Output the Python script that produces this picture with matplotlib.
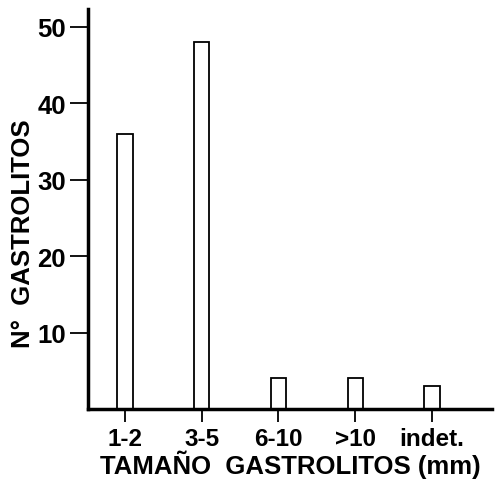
import matplotlib
matplotlib.use("Agg")
import matplotlib.pyplot as plt
import numpy as np

plt.rcParams['font.family'] = ['Liberation Sans', 'DejaVu Sans']

# datos
categorias = ['1-2', '3-5', '6-10', '>10', 'indet.']
n_gastrolitos = [36, 48, 4, 4, 3]
yticks = [10, 20, 30, 40, 50]

fig = plt.figure(figsize=(5.0, 4.81), dpi=100)
ax = fig.add_axes([0.176, 0.1476, 0.808, 0.8314])

x = np.arange(len(categorias))
ax.bar(x, n_gastrolitos, width=0.2, color='white', edgecolor='black', linewidth=1.3)

ax.set_xlim(-0.48, 4.78)
ax.set_ylim(0, 52.3)
ax.set_xticks(x)
ax.set_xticklabels(categorias, fontsize=17.5, fontweight='bold')
ax.set_yticks(yticks)
ax.set_yticklabels([str(t) for t in yticks], fontsize=18.5, fontweight='bold')

ax.spines['top'].set_visible(False)
ax.spines['right'].set_visible(False)
ax.spines['left'].set_linewidth(2.5)
ax.spines['bottom'].set_linewidth(2.5)
ax.tick_params(axis='y', direction='out', length=13, width=1.3, pad=3)
ax.tick_params(axis='x', direction='out', length=9, width=1.3, pad=4)

ax.set_xlabel('TAMAÑO  GASTROLITOS (mm)', fontsize=18.5, fontweight='bold', labelpad=0)
ax.set_ylabel('N°  GASTROLITOS', fontsize=18.5, fontweight='bold', labelpad=2)
ax.yaxis.set_label_coords(-0.132, 0.44)

fig.savefig('out.png', dpi=100)
